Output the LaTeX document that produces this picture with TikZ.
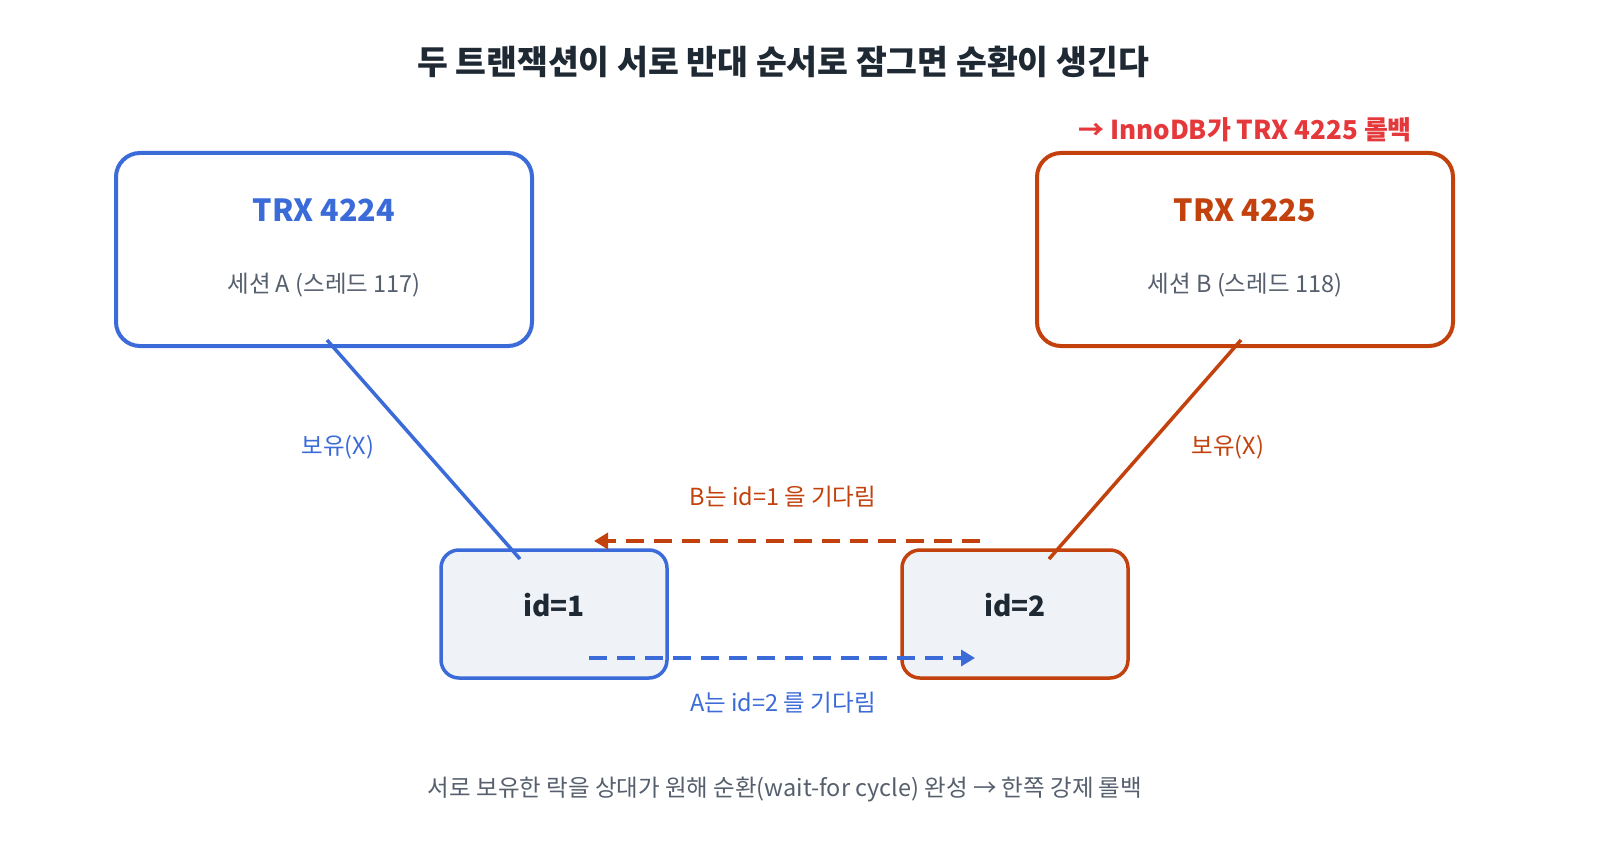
\documentclass[tikz,border=0pt]{standalone}
\usepackage{fontspec}
\setmainfont{Noto Sans CJK KR}
\usetikzlibrary{arrows.meta}
\definecolor{cblue}{HTML}{3B6BD9}
\definecolor{corange}{HTML}{C2410C}
\definecolor{cred}{HTML}{E5383B}
\definecolor{cgray}{HTML}{555F6D}
\definecolor{cdark}{HTML}{1F2933}
\definecolor{cfill}{HTML}{EFF2F7}
\begin{document}
\begin{tikzpicture}[x=1pt,y=-1pt,
  trx/.style={line width=4pt,rounded corners=24pt,fill=white},
  rec/.style={line width=3.5pt,rounded corners=18pt,fill=cfill},
  hold/.style={line width=3.5pt},
  wait/.style={line width=3.5pt,dash pattern=on 18pt off 10pt,-{Triangle[length=14pt,width=16pt]}},
  lbl/.style={font=\fontsize{23.5}{28}\selectfont},
  f/.style={inner sep=0pt}]
\useasboundingbox (0,0) rectangle (1597,866);
\fill[white] (0,0) rectangle (1597,866);
\node[f,font=\fontsize{33.5}{40}\selectfont\bfseries,text=cdark] (title) at (783,62) {두 트랜잭션이 서로 반대 순서로 잠그면 순환이 생긴다};
\draw[trx,draw=cblue] (116,153) rectangle (532,346);
\node[f,font=\fontsize{30.5}{36}\selectfont\bfseries,text=cblue] (ta) at (324,210) {TRX 4224};
\node[f,lbl,text=cgray] (sa) at (324,285) {세션 A (스레드 117)};
\draw[trx,draw=corange] (1037,153) rectangle (1453,346);
\node[f,font=\fontsize{30.5}{36}\selectfont\bfseries,text=corange] (tb) at (1245,210) {TRX 4225};
\node[f,lbl,text=cgray] (sb) at (1245,285) {세션 B (스레드 118)};
\node[f,font=\fontsize{26}{30}\selectfont\bfseries,text=cred] (rb) at (1245,130) {→ InnoDB가 TRX 4225 롤백};
\draw[rec,draw=cblue] (441,550) rectangle (667,678);
\node[f,font=\fontsize{28}{32}\selectfont\bfseries,text=cdark] (r1) at (554,605) {id=1};
\draw[rec,draw=corange] (902,550) rectangle (1128,678);
\node[f,font=\fontsize{28}{32}\selectfont\bfseries,text=cdark] (r2) at (1015,605) {id=2};
\coordinate (a1) at (327,340); \coordinate (a2) at (520,559);
\coordinate (b1) at (1241,340); \coordinate (b2) at (1049,559);
\draw[hold,cblue] (a1) -- (a2);
\draw[hold,corange] (b1) -- (b2);
\node[f,lbl,text=cblue] (ha) at (338,447) {보유(X)};
\node[f,lbl,text=corange] (hb) at (1228,447) {보유(X)};
\coordinate (w1s) at (980,541); \coordinate (w1e) at (594,541);
\coordinate (w2s) at (589,658); \coordinate (w2e) at (975,658);
\draw[wait,corange] (w1s) -- (w1e);
\draw[wait,cblue] (w2s) -- (w2e);
\node[f,lbl,text=corange] (lw1) at (783,497) {B는 id=1 을 기다림};
\node[f,lbl,text=cblue] (lw2) at (783,703) {A는 id=2 를 기다림};
\node[f,lbl,text=cgray] (foot) at (785,789) {서로 보유한 락을 상대가 원해 순환(wait-for cycle) 완성 → 한쪽 강제 롤백};
\end{tikzpicture}
\end{document}
